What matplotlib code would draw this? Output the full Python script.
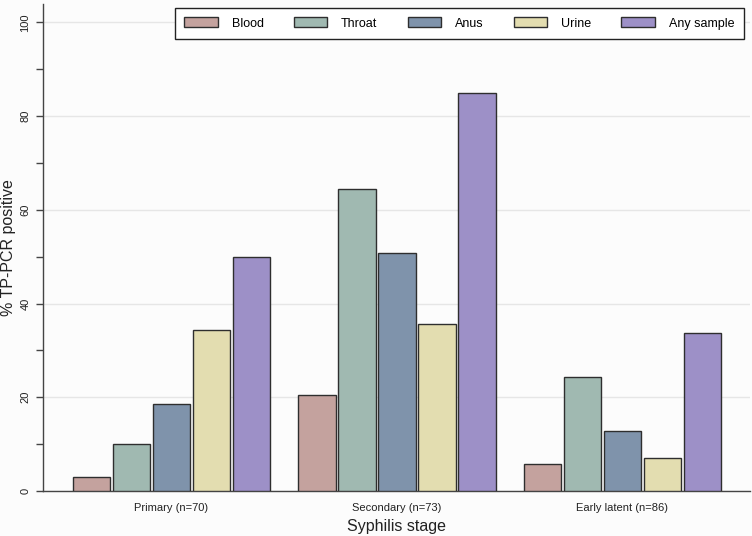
import matplotlib
matplotlib.use("Agg")
import matplotlib.pyplot as plt
import numpy as np
from matplotlib.ticker import MultipleLocator

plt.rcParams["font.family"] = ["Liberation Sans", "DejaVu Sans"]

stages = ["Primary (n=70)", "Secondary (n=73)", "Early latent (n=86)"]
series = ["Blood", "Throat", "Anus", "Urine", "Any sample"]
blood = [2.9, 20.5, 5.8]
throat = [10.0, 64.4, 24.4]
anus = [18.6, 50.7, 12.8]
urine = [34.3, 35.6, 7.0]
any_sample = [50.0, 84.9, 33.7]
colors = ["#c4a29e", "#a0b9b1", "#7f93ab", "#e3ddb0", "#9d90c7"]

values = [blood, throat, anus, urine, any_sample]

fig = plt.figure(figsize=(7.52, 5.36), dpi=100, facecolor="#fcfcfc")
ax = fig.add_axes([0.0572, 0.084, 0.94, 0.909])
ax.set_facecolor("#fcfcfc")

x = np.arange(len(stages))
step = 0.1774
width = 0.168
for i, (name, vals, c) in enumerate(zip(series, values, colors)):
    ax.bar(x + (i - 2) * step, vals, width=width, color=c, edgecolor="#2e2e2e",
           linewidth=1.0, label=name, zorder=3)

ax.set_xlim(-0.57, 2.565)
ax.set_ylim(0, 104)
ax.yaxis.set_major_locator(MultipleLocator(20))
ax.yaxis.set_minor_locator(MultipleLocator(10))
ax.grid(axis="y", which="major", color="#e6e6e6", linewidth=1.0, zorder=0)
ax.set_xticks(x)
ax.set_xticklabels(stages, fontsize=8, color="#222222")
ax.tick_params(axis="x", length=0, pad=9)
ax.tick_params(axis="y", which="major", length=5, width=1, color="#444444", labelsize=8,
               labelrotation=90, pad=4, labelcolor="#222222")
ax.tick_params(axis="y", which="minor", length=5, width=1, color="#444444")
for lab in ax.get_yticklabels():
    lab.set_va("center")

for s in ["top", "right"]:
    ax.spines[s].set_visible(False)
for s in ["left", "bottom"]:
    ax.spines[s].set_color("#444444")
    ax.spines[s].set_linewidth(1.0)

ax.set_xlabel("Syphilis stage", fontsize=11.5, color="#222222", labelpad=4)
ax.set_ylabel("% TP-PCR positive", fontsize=11.5, color="#222222", labelpad=3)

leg = ax.legend(loc="upper right", ncol=5, fontsize=9, frameon=True, fancybox=False,
                edgecolor="#222222", facecolor="white", framealpha=1,
                handlelength=2.7, handleheight=0.8, handletextpad=1.1,
                columnspacing=2.4, borderpad=0.75, bbox_to_anchor=(1.0, 1.004))
leg.get_frame().set_linewidth(1.0)

fig.savefig("out.png", dpi=100, facecolor=fig.get_facecolor())
